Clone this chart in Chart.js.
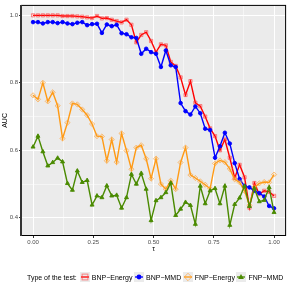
<!DOCTYPE html>
<html lang="en">
<head>
    <meta charset="UTF-8">
    <title>AUC vs tau</title>
    <script src="https://cdn.jsdelivr.net/npm/chart.js"></script>
    <style>
        body { margin: 0; background: #fff; }
        .wrap { position: relative; width: 291px; height: 291px; }
        .legend {
            position: absolute; left: 27px; top: 271px; height: 12px;
            display: flex; align-items: center;
            font-family: "Liberation Sans", Arial, sans-serif; font-size: 7px; color: #000;
            white-space: nowrap;
        }
        .legend .title { margin-right: 2px; }
        .legend svg { margin: 0 2px 0 1px; }
        .legend .lab { margin-right: 0.5px; }
    </style>
</head>
<body>
    <div class="wrap">
        <canvas id="chart" width="291" height="291"></canvas>
        <div class="legend" id="legend"><span class="title">Type of the test:</span></div>
    </div>

    <script>
        // tau grid: 50 evenly spaced values from 0 to 1
        const tau = Array.from({ length: 50 }, (_, i) => i / 49);

        const bnpEnergy = [1.0, 1.0, 1.0, 1.0, 1.0, 1.0, 0.998, 0.998, 0.998, 0.997,
            0.996, 0.994, 0.992, 0.998, 0.991, 0.992, 0.987, 0.983, 0.979, 0.987,
            0.972, 0.92, 0.942, 0.95, 0.924, 0.891, 0.914, 0.911, 0.862, 0.85,
            0.816, 0.764, 0.805, 0.741, 0.731, 0.70, 0.665, 0.642, 0.60, 0.632,
            0.578, 0.518, 0.557, 0.52, 0.43, 0.503, 0.47, 0.48, 0.477, 0.465];

        const bnpMMD = [0.98, 0.98, 0.976, 0.98, 0.98, 0.977, 0.98, 0.976, 0.974, 0.978,
            0.98, 0.971, 0.974, 0.975, 0.948, 0.973, 0.968, 0.972, 0.947, 0.944,
            0.935, 0.933, 0.886, 0.901, 0.891, 0.886, 0.847, 0.896, 0.852, 0.847,
            0.74, 0.716, 0.706, 0.73, 0.71, 0.664, 0.66, 0.578, 0.612, 0.652,
            0.62, 0.562, 0.515, 0.494, 0.49, 0.48, 0.473, 0.463, 0.435, 0.428];

        const fnpEnergy = [0.763, 0.751, 0.80, 0.745, 0.772, 0.732, 0.635, 0.682, 0.739, 0.736,
            0.721, 0.704, 0.678, 0.642, 0.641, 0.569, 0.632, 0.565, 0.65, 0.599,
            0.544, 0.608, 0.615, 0.575, 0.516, 0.575, 0.50, 0.485, 0.51, 0.485,
            0.564, 0.608, 0.527, 0.518, 0.508, 0.498, 0.486, 0.561, 0.57, 0.565,
            0.545, 0.514, 0.505, 0.48, 0.437, 0.49, 0.502, 0.506, 0.505, 0.528];

        const fnpMMD = [0.61, 0.642, 0.596, 0.554, 0.564, 0.577, 0.566, 0.502, 0.482, 0.539,
            0.505, 0.511, 0.438, 0.465, 0.46, 0.495, 0.465, 0.467, 0.429, 0.46,
            0.529, 0.50, 0.532, 0.485, 0.392, 0.451, 0.46, 0.475, 0.503, 0.407,
            0.426, 0.446, 0.437, 0.381, 0.494, 0.442, 0.48, 0.487, 0.442, 0.494,
            0.378, 0.44, 0.459, 0.494, 0.434, 0.487, 0.448, 0.452, 0.49, 0.416];

        const xTicks = [0, 0.25, 0.5, 0.75, 1.0];
        const xMinor = [0.125, 0.375, 0.625, 0.875];
        const yTicks = [0.4, 0.6, 0.8, 1.0];
        const yMinor = [0.5, 0.7, 0.9];

        const series = [
            { label: 'BNP\u2212Energy', data: bnpEnergy, color: '#FF0000', mark: 'rect', r: 2.3,
              fill: 'rgba(255,0,0,0.15)', edge: 'rgba(255,60,60,0.6)', order: 4 },
            { label: 'BNP\u2212MMD', data: bnpMMD, color: '#0000FF', mark: 'circle', r: 1.8,
              fill: '#0000FF', edge: '#0000FF', order: 3 },
            { label: 'FNP\u2212Energy', data: fnpEnergy, color: '#FF9A14', mark: 'rectRot', r: 2.6,
              fill: 'rgba(255,154,20,0.12)', edge: 'rgba(255,160,50,0.65)', order: 2 },
            { label: 'FNP\u2212MMD', data: fnpMMD, color: '#4A8A00', mark: 'triangle', r: 2.3,
              fill: '#4A8A00', edge: '#4A8A00', order: 1 }
        ];

        Chart.defaults.font.family = '"Liberation Sans", Arial, sans-serif';

        // grey panel and black frame like ggplot
        const panel = {
            id: 'panel',
            beforeDraw(chart) {
                const { ctx, chartArea: a } = chart;
                ctx.save();
                ctx.fillStyle = '#EBEBEB';
                ctx.fillRect(a.left, a.top, a.right - a.left, a.bottom - a.top);
                ctx.restore();
            },
            afterDraw(chart) {
                const { ctx, chartArea: a } = chart;
                ctx.save();
                ctx.strokeStyle = '#000';
                ctx.lineWidth = 1;
                ctx.strokeRect(a.left + 0.5, a.top + 0.5, a.right - a.left - 1, a.bottom - a.top - 1);
                ctx.strokeStyle = '#333';
                ctx.lineWidth = 2;
                ctx.beginPath();
                ctx.moveTo(a.left, a.top);
                ctx.lineTo(a.left, a.bottom);
                ctx.stroke();
                ctx.restore();
            }
        };

        const isMajor = (list, v) => list.some(t => Math.abs(t - v) < 1e-6);

        new Chart(document.getElementById('chart'), {
            type: 'line',
            data: {
                datasets: series.map(s => ({
                    label: s.label,
                    data: tau.map((t, i) => ({ x: t, y: s.data[i] })),
                    borderColor: s.color,
                    borderWidth: 1.4,
                    pointStyle: s.mark,
                    pointRadius: s.r,
                    pointBackgroundColor: s.fill,
                    pointBorderColor: s.edge,
                    pointBorderWidth: 0.9,
                    tension: 0,
                    order: s.order
                }))
            },
            options: {
                responsive: false,
                animation: false,
                layout: { padding: { top: 4, right: 4, left: 0, bottom: 35 } },
                plugins: { legend: { display: false }, tooltip: { enabled: false } },
                scales: {
                    x: {
                        type: 'linear', min: -0.05, max: 1.05,
                        afterBuildTicks: sc => { sc.ticks = xTicks.concat(xMinor).sort().map(v => ({ value: v })); },
                        afterFit: sc => { sc.height = 20; },
                        ticks: {
                            autoSkip: false, maxRotation: 0, padding: 1,
                            font: { size: 6 }, color: '#4D4D4D',
                            callback: v => isMajor(xTicks, v) ? v.toFixed(2) : ''
                        },
                        grid: {
                            color: '#FFFFFF', tickLength: 2,
                            lineWidth: c => isMajor(xTicks, c.tick.value) ? 1 : 0.5,
                            tickColor: c => isMajor(xTicks, c.tick.value) ? '#333333' : 'rgba(0,0,0,0)'
                        },
                        border: { display: false },
                        title: { display: true, text: '\u03c4', font: { size: 7 }, color: '#000', padding: { top: 0, bottom: 3 } }
                    },
                    y: {
                        type: 'linear', min: 0.346, max: 1.031,
                        afterBuildTicks: sc => { sc.ticks = yTicks.concat(yMinor).sort().map(v => ({ value: v })); },
                        afterFit: sc => { sc.width = 21; },
                        ticks: {
                            autoSkip: false, padding: 1,
                            font: { size: 6 }, color: '#4D4D4D',
                            callback: v => isMajor(yTicks, v) ? v.toFixed(1) : ''
                        },
                        grid: {
                            color: '#FFFFFF', tickLength: 2,
                            lineWidth: c => isMajor(yTicks, c.tick.value) ? 1 : 0.5,
                            tickColor: c => isMajor(yTicks, c.tick.value) ? '#333333' : 'rgba(0,0,0,0)'
                        },
                        border: { display: false },
                        title: { display: true, text: 'AUC', font: { size: 7 }, color: '#000', padding: { top: 1, bottom: 0 } }
                    }
                }
            },
            plugins: [panel]
        });

        // legend keys (grey box, line, marker)
        const legend = document.getElementById('legend');
        const markSvg = s => {
            const c = 5, r = s.r + 0.6;
            if (s.mark === 'rect') return `<rect x="${c - r}" y="${c - r}" width="${2 * r}" height="${2 * r}" fill="none" stroke="${s.edge}" stroke-width="1"/>`;
            if (s.mark === 'circle') return `<circle cx="${c}" cy="${c}" r="${r}" fill="${s.fill}"/>`;
            if (s.mark === 'rectRot') return `<polygon points="${c},${c - r - 0.5} ${c + r + 0.5},${c} ${c},${c + r + 0.5} ${c - r - 0.5},${c}" fill="none" stroke="${s.edge}" stroke-width="1"/>`;
            return `<polygon points="${c},${c - r} ${c + r},${c + r * 0.7} ${c - r},${c + r * 0.7}" fill="${s.fill}"/>`;
        };
        series.forEach(s => {
            legend.insertAdjacentHTML('beforeend',
                `<svg width="10" height="10"><rect width="10" height="10" fill="#EBEBEB"/>` +
                `<line x1="1" y1="5" x2="9" y2="5" stroke="${s.color}" stroke-width="1.3"/>${markSvg(s)}</svg>` +
                `<span class="lab">${s.label}</span>`);
        });
    </script>
</body>
</html>
